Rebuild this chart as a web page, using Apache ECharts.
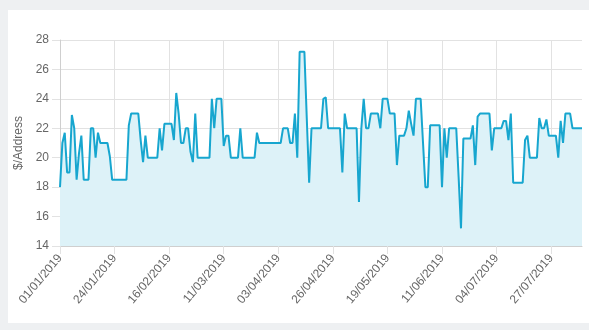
<!DOCTYPE html>
<html>
<head>
<meta charset="utf-8">
<title>$/Address</title>
<script src="https://cdn.jsdelivr.net/npm/echarts@6/dist/echarts.min.js"></script>
<style>
  html, body { margin: 0; padding: 0; width: 589px; height: 330px; background: #eef0f2; overflow: hidden; }
  #card { position: absolute; left: 8px; top: 10px; width: 581px; height: 313px; background: #ffffff; }
  #chart { position: absolute; left: 0; top: 0; width: 589px; height: 330px; }
</style>
</head>
<body>
<div id="card"></div>
<div id="chart"></div>
<script>
// Daily dollars per address, one value per day starting 01/01/2019
const START_DATE = [2019, 0, 1];
const DAY_COUNT = 221;

const dollarsPerAddress = [
  18.0, 21.0, 21.7, 19.0, 19.0, 22.9, 22.0, 18.5, 20.3, 21.5,
  18.5, 18.5, 18.5, 22.0, 22.0, 20.0, 21.7, 21.0, 21.0, 21.0,
  21.0, 20.1, 18.5, 18.5, 18.5, 18.5, 18.5, 18.5, 18.5, 22.2,
  23.0, 23.0, 23.0, 23.0, 21.2, 19.7, 21.5, 20.0, 20.0, 20.0,
  20.0, 20.0, 22.0, 20.5, 22.3, 22.3, 22.3, 22.3, 21.2, 24.4,
  23.0, 21.0, 21.0, 22.0, 22.0, 20.4, 19.7, 23.0, 20.0, 20.0,
  20.0, 20.0, 20.0, 20.0, 24.0, 22.0, 24.0, 24.0, 24.0, 20.8,
  21.5, 21.5, 20.0, 20.0, 20.0, 20.0, 22.0, 20.0, 20.0, 20.0,
  20.0, 20.0, 20.0, 21.7, 21.0, 21.0, 21.0, 21.0, 21.0, 21.0,
  21.0, 21.0, 21.0, 21.0, 22.0, 22.0, 22.0, 21.0, 21.0, 23.0,
  20.0, 27.2, 27.2, 27.2, 22.7, 18.3, 22.0, 22.0, 22.0, 22.0,
  22.0, 24.0, 24.1, 22.0, 22.0, 22.0, 22.0, 22.0, 22.0, 19.0,
  23.0, 22.0, 22.0, 22.0, 22.0, 22.0, 17.0, 22.0, 24.0, 22.0,
  22.0, 23.0, 23.0, 23.0, 23.0, 22.0, 24.0, 24.0, 24.0, 23.0,
  23.0, 23.0, 19.5, 21.5, 21.5, 21.5, 22.0, 23.2, 22.3, 21.5,
  24.0, 24.0, 24.0, 21.0, 18.0, 18.0, 22.2, 22.2, 22.2, 22.2,
  22.2, 18.0, 22.0, 20.0, 22.0, 22.0, 22.0, 22.0, 18.7, 15.2,
  21.3, 21.3, 21.3, 21.3, 22.2, 19.5, 22.8, 23.0, 23.0, 23.0,
  23.0, 23.0, 20.5, 22.0, 22.0, 22.0, 22.0, 22.5, 22.5, 21.2,
  23.0, 18.3, 18.3, 18.3, 18.3, 18.3, 21.2, 21.5, 20.0, 20.0,
  20.0, 20.0, 22.7, 22.0, 22.0, 22.6, 21.5, 21.5, 21.5, 21.5,
  20.0, 22.5, 21.0, 23.0, 23.0, 23.0, 22.0, 22.0, 22.0, 22.0,
  22.0
];

const Y_MIN = 14;
const Y_MAX = 28;
const Y_STEP = 2;
const LABEL_EVERY = 23; // one date label every 23 days
const Y_TITLE = '$/Address';

function pad2(n) { return (n < 10 ? '0' : '') + n; }

// dd/mm/yyyy labels for each day
const dates = [];
for (let i = 0; i < DAY_COUNT; i++) {
  const d = new Date(START_DATE[0], START_DATE[1], START_DATE[2] + i);
  dates.push(pad2(d.getDate()) + '/' + pad2(d.getMonth() + 1) + '/' + d.getFullYear());
}

const FONT = '"Liberation Sans", Arial, Helvetica, sans-serif';
const GRID_COLOR = '#e2e2e2';
const TEXT_COLOR = '#666666';

const chart = echarts.init(document.getElementById('chart'), null, { renderer: 'canvas' });
chart.setOption({
  backgroundColor: 'transparent',
  animation: false,
  textStyle: { fontFamily: FONT },
  grid: { left: 60, right: 7, top: 40, bottom: 84, containLabel: false },
  xAxis: {
    type: 'category',
    data: dates,
    boundaryGap: false,
    axisLine: { show: true, lineStyle: { color: '#cfcfcf', width: 1 } },
    axisTick: { show: true, length: 8, interval: LABEL_EVERY - 1, lineStyle: { color: GRID_COLOR } },
    axisLabel: {
      interval: LABEL_EVERY - 1,
      rotate: 50,
      margin: 10,
      color: TEXT_COLOR,
      fontSize: 12,
      fontFamily: FONT
    },
    splitLine: { show: true, interval: LABEL_EVERY - 1, lineStyle: { color: GRID_COLOR, width: 1 } }
  },
  yAxis: {
    type: 'value',
    min: Y_MIN,
    max: Y_MAX,
    interval: Y_STEP,
    name: Y_TITLE,
    nameLocation: 'middle',
    nameGap: 33,
    nameRotate: 90,
    nameTextStyle: { color: TEXT_COLOR, fontSize: 12, fontFamily: FONT },
    axisLine: { show: true, lineStyle: { color: '#cfcfcf', width: 1 } },
    axisTick: { show: true, length: 8, lineStyle: { color: GRID_COLOR } },
    axisLabel: { color: TEXT_COLOR, fontSize: 12, margin: 11, fontFamily: FONT },
    splitLine: { show: true, lineStyle: { color: GRID_COLOR, width: 1 } }
  },
  series: [{
    type: 'line',
    data: dollarsPerAddress,
    showSymbol: false,
    smooth: false,
    lineStyle: { color: '#17a6cf', width: 2 },
    itemStyle: { color: '#17a6cf' },
    areaStyle: { color: '#ddf2f8', opacity: 1 }
  }]
});
</script>
</body>
</html>
